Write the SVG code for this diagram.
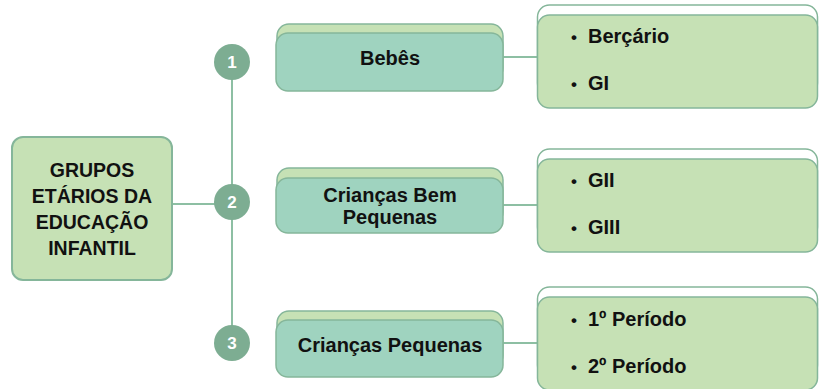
<svg xmlns="http://www.w3.org/2000/svg" width="819" height="389" viewBox="0 0 819 389">
<style>
.t{font-family:"Liberation Sans",Arial,sans-serif;font-weight:bold;font-size:20px;fill:#111;}
.m{font-size:19.5px;}
.c{text-anchor:middle;}
.b{font-size:17px;}
.n{font-family:"Liberation Sans",Arial,sans-serif;font-weight:bold;font-size:17px;fill:#fff;text-anchor:middle;}
.main{fill:#c6e1b5;stroke:#85b69a;stroke-width:2;}
.back{fill:#c6e1b5;stroke:#85b69a;stroke-width:1.5;}
.front{fill:#9fd3bf;stroke:#85b69a;stroke-width:1.5;}
.rback{fill:#fff;stroke:#85b69a;stroke-width:1.5;}
.rfront{fill:#c6e1b5;stroke:#85b69a;stroke-width:1.5;}
.ln{stroke:#8dbfa3;stroke-width:2;fill:none;}
.circ{fill:#7dad92;}
</style>
<g id="connectors">
<line class="ln" x1="172" y1="204" x2="232" y2="204"/>
<line class="ln" x1="232" y1="62" x2="232" y2="343"/>
<line class="ln" x1="503" y1="57" x2="538" y2="57"/>
<line class="ln" x1="503" y1="205" x2="538" y2="205"/>
<line class="ln" x1="503" y1="343" x2="538" y2="343"/>
</g>
<g id="main">
<rect class="main" x="12" y="137" width="160" height="143" rx="11"/>
<text class="t m c" x="92" y="177">GRUPOS</text>
<text class="t m c" x="92" y="203">ETÁRIOS DA</text>
<text class="t m c" x="92" y="229">EDUCAÇÃO</text>
<text class="t m c" x="92" y="255">INFANTIL</text>
</g>
<g id="num1"><circle class="circ" cx="232" cy="62" r="18"/><text class="n" x="232" y="68">1</text></g>
<g id="num2"><circle class="circ" cx="232" cy="202" r="18"/><text class="n" x="232" y="208">2</text></g>
<g id="num3"><circle class="circ" cx="232" cy="343" r="18"/><text class="n" x="232" y="349">3</text></g>
<g id="bebes">
<rect class="back" x="277" y="24" width="226" height="56" rx="12"/>
<rect class="front" x="276" y="33" width="227" height="58" rx="12"/>
<text class="t c" x="390" y="65">Bebês</text>
</g>
<g id="criancas-bem-pequenas">
<rect class="back" x="277" y="168" width="226" height="56" rx="12"/>
<rect class="front" x="276" y="178" width="227" height="55" rx="12"/>
<text class="t c" x="390" y="202">Crianças Bem</text>
<text class="t c" x="390" y="224">Pequenas</text>
</g>
<g id="criancas-pequenas">
<rect class="back" x="277" y="311" width="226" height="56" rx="12"/>
<rect class="front" x="276" y="320" width="227" height="57" rx="12"/>
<text class="t c" x="390" y="352">Crianças Pequenas</text>
</g>
<g id="list1">
<rect class="rback" x="537.5" y="5" width="280" height="90" rx="12"/>
<rect class="rfront" x="537.5" y="15" width="280" height="93" rx="12"/>
<text class="t b" x="571" y="43">•</text><text class="t" x="588" y="43">Berçário</text>
<text class="t b" x="571" y="90">•</text><text class="t" x="588" y="90">GI</text>
</g>
<g id="list2">
<rect class="rback" x="537.5" y="149" width="280" height="90" rx="12"/>
<rect class="rfront" x="537.5" y="159" width="280" height="93" rx="12"/>
<text class="t b" x="571" y="187">•</text><text class="t" x="588" y="187">GII</text>
<text class="t b" x="571" y="234">•</text><text class="t" x="588" y="234">GIII</text>
</g>
<g id="list3">
<rect class="rback" x="537.5" y="287" width="280" height="90" rx="12"/>
<rect class="rfront" x="537.5" y="297" width="280" height="93" rx="12"/>
<text class="t b" x="571" y="326">•</text><text class="t" x="588" y="326">1º Período</text>
<text class="t b" x="571" y="373">•</text><text class="t" x="588" y="373">2º Período</text>
</g>
</svg>
